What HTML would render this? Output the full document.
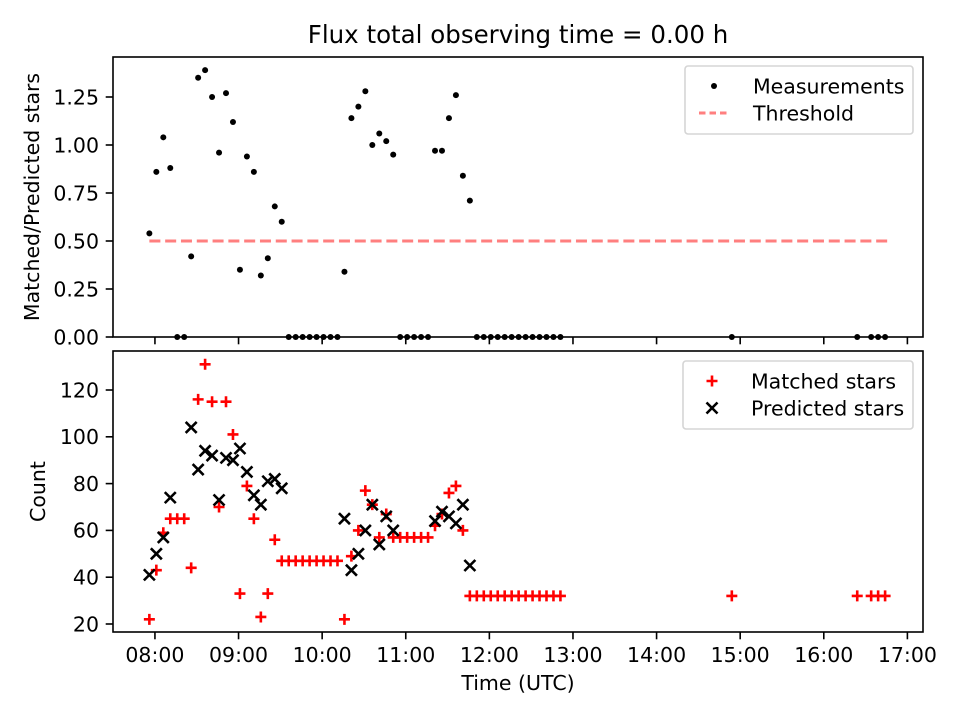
<!DOCTYPE html>
<html><head><meta charset="utf-8"><style>
body{margin:0;background:#fff;}
svg text{font-family:"DejaVu Sans","Liberation Sans",sans-serif;fill:#000;}
</style></head><body>
<svg id="c" width="960" height="720" viewBox="0 0 960 720" xmlns="http://www.w3.org/2000/svg"></svg>
<script>
const times=[476,481,486,491,496,501,506,511,516,521,526,531,536,541,546,551,556,561,566,571,576,581,586,591,596,601,606,611,616,621,626,631,636,641,646,651,656,661,666,671,676,681,686,691,696,701,706,711,716,721,726,731,736,741,746,751,756,761,766,771,894,984,994,999,1004];
const ratio=[0.54,0.86,1.04,0.88,0,0,0.42,1.35,1.39,1.25,0.96,1.27,1.12,0.35,0.94,0.86,0.32,0.41,0.68,0.60,0,0,0,0,0,0,0,0,0.34,1.14,1.20,1.28,1.00,1.06,1.02,0.95,0,0,0,0,0,0.97,0.97,1.14,1.26,0.84,0.71,0,0,0,0,0,0,0,0,0,0,0,0,0,0,0,0,0,0];
const matched=[22,43,59,65,65,65,44,116,131,115,70,115,101,33,79,65,23,33,56,47,47,47,47,47,47,47,47,47,22,49,60,77,71,57,67,57,57,57,57,57,57,62,67,76,79,60,32,32,32,32,32,32,32,32,32,32,32,32,32,32,32,32,32,32,32];
const predicted=[41,50,57,74,null,null,104,86,94,92,73,91,90,95,85,75,71,81,82,78,null,null,null,null,null,null,null,null,65,43,50,60,71,54,66,60,null,null,null,null,null,64,68,66,63,71,45,null,null,null,null,null,null,null,null,null,null,null,null,null,null,null,null,null,null];
const threshold=0.5;
const xTickLabels=["08:00","09:00","10:00","11:00","12:00","13:00","14:00","15:00","16:00","17:00"];
const topTicks=[0,0.25,0.5,0.75,1.0,1.25];
const botTicks=[20,40,60,80,100,120];

const NS="http://www.w3.org/2000/svg";
const svg=document.getElementById('c');
function mk(t,a,p){const e=document.createElementNS(NS,t);for(const k in a)e.setAttribute(k,a[k]);(p||svg).appendChild(e);return e;}
const X0=113,X1=923,TMIN=449.9,TMAX=1031.2;
const xs=t=>X0+(t-TMIN)/(TMAX-TMIN)*(X1-X0);
const T={y0:57,y1:337,min:0,max:1.4583};
const B={y0:351,y1:632,min:16.58,max:136.67};
const ys=(ax,v)=>ax.y1-(v-ax.min)/(ax.max-ax.min)*(ax.y1-ax.y0);
const FS=20.5;

const title=mk('text',{x:518,y:43,'text-anchor':'middle','font-size':24.5});
title.textContent='Flux total observing time = 0.00 h';



function axes(ax,ticks,fmt,name,showX){
  const g=mk('g',{});
  
  
  ticks.forEach(v=>{const y=ys(ax,v);
    mk('line',{x1:X0-7.3,x2:X0,y1:y,y2:y,stroke:'#000','stroke-width':1.6},g);
    const t=mk('text',{x:X0-14,y:y+7.3,'text-anchor':'end','font-size':FS},g);t.textContent=fmt(v);});
  xTickLabels.forEach((l,i)=>{const x=xs((8+i)*60);
    mk('line',{x1:x,x2:x,y1:ax.y1,y2:ax.y1+7.3,stroke:'#000','stroke-width':1.6},g);
    if(showX){const t=mk('text',{x:x,y:ax.y1+30,'text-anchor':'middle','font-size':FS},g);t.textContent=l;}});
  return g;
}
axes(T,topTicks,v=>v.toFixed(2),'top-axes',false);
axes(B,botTicks,v=>String(v),'bottom-axes',true);

const th=mk('line',{x1:xs(times[0]),x2:xs(times[times.length-1])+3,y1:ys(T,threshold),y2:ys(T,threshold),stroke:'#ff7f7f','stroke-width':3,'stroke-dasharray':'11,4.8'});


times.forEach((t,i)=>{const c=mk('circle',{cx:xs(t),cy:ys(T,ratio[i]),r:3,fill:'#000'});
  
  });
const H=5.5;
times.forEach((t,i)=>{const x=xs(t),y=ys(B,matched[i]);
  const p=mk('path',{d:`M${x-H},${y}H${x+H}M${x},${y-H}V${y+H}`,stroke:'#f00','stroke-width':2.6,fill:'none'});
  
  });
times.forEach((t,i)=>{if(predicted[i]==null)return;const x=xs(t),y=ys(B,predicted[i]);
  const p=mk('path',{d:`M${x-H},${y-H}L${x+H},${y+H}M${x-H},${y+H}L${x+H},${y-H}`,stroke:'#000','stroke-width':2.6,fill:'none'});
  
  });

mk('rect',{x:X0,y:T.y0,width:X1-X0,height:T.y1-T.y0,fill:'none',stroke:'#000','stroke-width':1.6});
mk('rect',{x:X0,y:B.y0,width:X1-X0,height:B.y1-B.y0,fill:'none',stroke:'#000','stroke-width':1.6});

const yl1=mk('text',{x:0,y:0,'text-anchor':'middle','font-size':FS,transform:`translate(39,${(T.y0+T.y1)/2}) rotate(-90)`});
yl1.textContent='Matched/Predicted stars';


const yl2=mk('text',{x:0,y:0,'text-anchor':'middle','font-size':FS,transform:`translate(45,${(B.y0+B.y1)/2}) rotate(-90)`});
yl2.textContent='Count';


const xl=mk('text',{x:518,y:690,'text-anchor':'middle','font-size':FS});
xl.textContent='Time (UTC)';



function legend(x,y,w,items,name){
  const g=mk('g',{});
  
  
  mk('rect',{x:x,y:y,width:w,height:68,rx:3,fill:'#fff','fill-opacity':0.8,stroke:'#d5d5d5','stroke-width':1.6},g);
  items.forEach((it,i)=>{const cy=y+20+i*27;it.draw(g,x+29,cy);
    const t=mk('text',{x:x+68,y:cy+7.3,'font-size':FS},g);t.textContent=it.label;});
}
legend(685,66,228,[
 {label:'Measurements',draw:(g,x,y)=>mk('circle',{cx:x,cy:y,r:3,fill:'#000'},g)},
 {label:'Threshold',draw:(g,x,y)=>mk('line',{x1:x-15,x2:x+15,y1:y,y2:y,stroke:'#ff7f7f','stroke-width':3,'stroke-dasharray':'6.5,4'},g)}
],'top-legend');
legend(683,361,230,[
 {label:'Matched stars',draw:(g,x,y)=>mk('path',{d:`M${x-H},${y}H${x+H}M${x},${y-H}V${y+H}`,stroke:'#f00','stroke-width':2.6},g)},
 {label:'Predicted stars',draw:(g,x,y)=>mk('path',{d:`M${x-H},${y-H}L${x+H},${y+H}M${x-H},${y+H}L${x+H},${y-H}`,stroke:'#000','stroke-width':2.6},g)}
],'bottom-legend');
</script>
</body></html>
